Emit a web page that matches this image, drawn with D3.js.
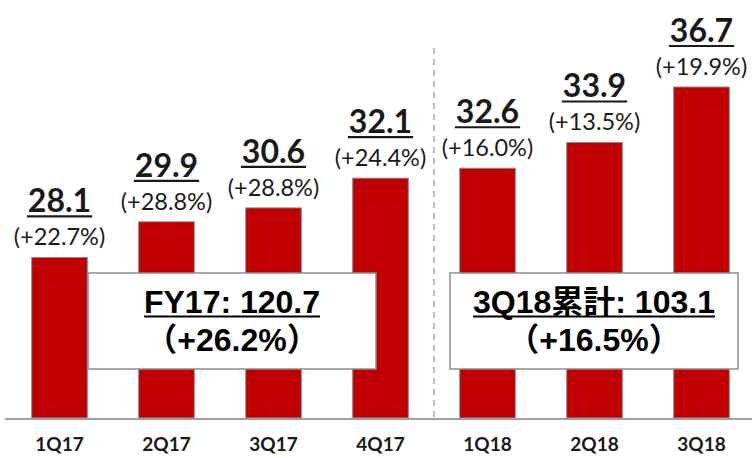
<!DOCTYPE html>
<html>
<head>
<meta charset="utf-8">
<script src="https://cdnjs.cloudflare.com/ajax/libs/d3/7.8.5/d3.min.js"></script>
<style>
  html, body { margin: 0; padding: 0; background: #fff; }
  svg { display: block; }
  .val { font-family: Lato, "Open Sans", sans-serif; font-weight: 700; font-size: 32px; fill: #1a1a1a; }
  .pct { font-family: Lato, "Open Sans", sans-serif; font-size: 23.5px; fill: #1a1a1a; }
  .cat { font-family: Lato, "Open Sans", sans-serif; font-weight: 700; font-size: 19px; fill: #1a1a1a; }
  .box text { font-family: "Liberation Sans", Arial, "Noto Sans CJK JP", sans-serif; font-weight: 700; font-size: 32px; fill: #000; }
</style>
</head>
<body>
<svg id="chart" width="752" height="458"></svg>
<script>
// quarterly values
var quarters = ['1Q17', '2Q17', '3Q17', '4Q17', '1Q18', '2Q18', '3Q18'];
var values = [28.1, 29.9, 30.6, 32.1, 32.6, 33.9, 36.7];
var growth = ['(+22.7%)', '(+28.8%)', '(+28.8%)', '(+24.4%)', '(+16.0%)', '(+13.5%)', '(+19.9%)'];

// summary boxes
var boxTitles = ['FY17: 120.7', '3Q18累計: 103.1'];
var boxGrowth = ['（+26.2%）', '（+16.5%）'];

var svg = d3.select('#chart');
var baseY = 418;

var x = d3.scaleBand()
  .domain(quarters)
  .range([6, 755])
  .paddingInner(0.48)
  .paddingOuter(0.24);

var y = d3.scaleLinear()
  .domain([20, 36.7])
  .range([baseY, 87]);

var data = quarters.map(function(q, i) {
  return { q: q, v: values[i], g: growth[i] };
});

// divider between FY17 and FY18
var divX = (x('4Q17') + x.bandwidth() + x('1Q18')) / 2;
svg.append('line')
  .attr('x1', divX).attr('x2', divX)
  .attr('y1', 48).attr('y2', baseY)
  .attr('stroke', '#a6a6a6')
  .attr('stroke-width', 1.5)
  .attr('stroke-dasharray', '6,5');

svg.selectAll('rect.bar')
  .data(data)
  .enter().append('rect')
  .attr('class', 'bar')
  .attr('x', function(d) { return x(d.q); })
  .attr('y', function(d) { return y(d.v); })
  .attr('width', x.bandwidth())
  .attr('height', function(d) { return baseY - y(d.v); })
  .attr('fill', '#c00000')
  .attr('stroke', '#8c8c8c')
  .attr('stroke-width', 1);

// axis line
svg.append('line')
  .attr('x1', 5).attr('x2', 752)
  .attr('y1', baseY + 1).attr('y2', baseY + 1)
  .attr('stroke', '#a0a0a0')
  .attr('stroke-width', 2);

// category labels
svg.selectAll('text.cat')
  .data(data)
  .enter().append('text')
  .attr('class', 'cat')
  .attr('x', function(d) { return x(d.q) + x.bandwidth() / 2; })
  .attr('y', 451)
  .attr('text-anchor', 'middle')
  .text(function(d) { return d.q; });

// value labels with underline
var labels = svg.selectAll('g.lbl')
  .data(data)
  .enter().append('g')
  .attr('class', 'lbl')
  .attr('transform', function(d) {
    return 'translate(' + (x(d.q) + x.bandwidth() / 2) + ',' + y(d.v) + ')';
  });

labels.append('text')
  .attr('class', 'val')
  .attr('y', -45)
  .attr('text-anchor', 'middle')
  .text(function(d) { return d.v.toFixed(1); })
  .each(function() {
    var w = this.getComputedTextLength();
    d3.select(this.parentNode).append('line')
      .attr('x1', -w / 2 - 1).attr('x2', w / 2 + 1)
      .attr('y1', -41).attr('y2', -41)
      .attr('stroke', '#1a1a1a')
      .attr('stroke-width', 2.2);
  });

labels.append('text')
  .attr('class', 'pct')
  .attr('y', -12)
  .attr('text-anchor', 'middle')
  .text(function(d) { return d.g; });

// summary boxes
var boxes = [
  { x0: 88, x1: 376, title: boxTitles[0], sub: boxGrowth[0] },
  { x0: 450, x1: 738, title: boxTitles[1], sub: boxGrowth[1] }
];

var bg = svg.selectAll('g.box')
  .data(boxes)
  .enter().append('g')
  .attr('class', 'box');

bg.append('rect')
  .attr('x', function(d) { return d.x0; })
  .attr('y', 273)
  .attr('width', function(d) { return d.x1 - d.x0; })
  .attr('height', 96)
  .attr('fill', '#fff')
  .attr('stroke', '#8c8c8c')
  .attr('stroke-width', 1.5);

bg.append('text')
  .attr('x', function(d) { return (d.x0 + d.x1) / 2; })
  .attr('y', 313)
  .attr('text-anchor', 'middle')
  .text(function(d) { return d.title; })
  .each(function(d) {
    var w = this.getComputedTextLength();
    var cx = (d.x0 + d.x1) / 2;
    d3.select(this.parentNode).append('line')
      .attr('x1', cx - w / 2).attr('x2', cx + w / 2)
      .attr('y1', 316.5).attr('y2', 316.5)
      .attr('stroke', '#000')
      .attr('stroke-width', 2);
  });

bg.append('text')
  .attr('x', function(d) { return (d.x0 + d.x1) / 2; })
  .attr('y', 351)
  .attr('text-anchor', 'middle')
  .text(function(d) { return d.sub; });
</script>
</body>
</html>
